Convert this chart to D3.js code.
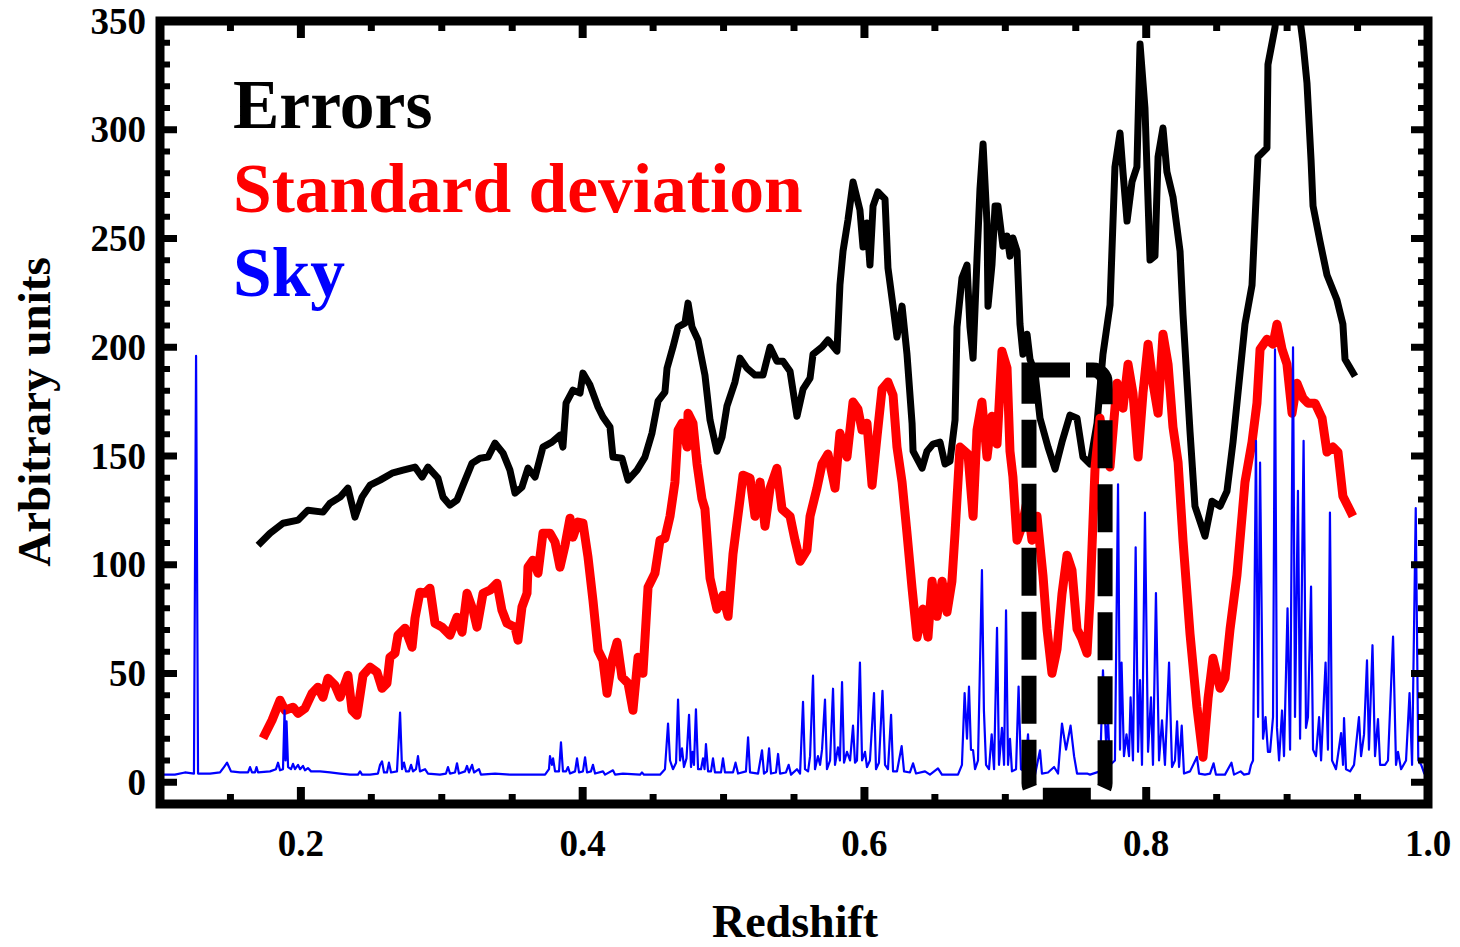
<!DOCTYPE html>
<html>
<head>
<meta charset="utf-8">
<script src="https://cdn.jsdelivr.net/npm/d3@7/dist/d3.min.js"></script>
<style>
  html, body { margin: 0; padding: 0; background: #fff; }
  svg { display: block; }
  text { font-family: "Liberation Serif", "Times New Roman", serif; font-weight: bold; }
</style>
</head>
<body>
<svg id="chart" width="1460" height="947"></svg>
<script>
// ---------- DATA ----------
const xMajorTicks = [0.2, 0.4, 0.6, 0.8, 1.0];
const xTickLabels = ["0.2", "0.4", "0.6", "0.8", "1.0"];
const yMajorTicks = [0, 50, 100, 150, 200, 250, 300, 350];
const yTickLabels = ["0", "50", "100", "150", "200", "250", "300", "350"];
const seriesNames = ["Errors", "Standard deviation", "Sky"];
const seriesColors = ["#000000", "#ff0000", "#0000ff"];
const boxRedshift = [0.7168, 0.7708];
const boxValue = [-6, 189.5];

// Errors (black): [redshift, value]
const errors = [
[0.1696,109.0],[0.1781,114.5],[0.1873,119.1],[0.1980,120.5],[0.2050,125.1],[0.2157,124.2],[0.2207,128.3],[0.2278,131.1],[0.2334,135.2],[0.2384,121.9],[0.2434,131.1],[0.2491,136.6],[0.2562,138.9],[0.2647,142.1],[0.2725,143.5],[0.2810,144.9],[0.2860,140.3],[0.2902,144.9],[0.2973,139.8],[0.3009,131.1],[0.3058,127.4],[0.3108,129.7],[0.3151,136.6],[0.3215,146.7],[0.3271,149.0],[0.3328,149.5],[0.3378,155.9],[0.3435,151.3],[0.3484,143.5],[0.3520,132.9],[0.3569,135.7],[0.3612,144.4],[0.3662,140.3],[0.3718,154.1],[0.3782,156.4],[0.3839,159.6],[0.3860,154.1],[0.3882,174.3],[0.3931,180.3],[0.3981,178.9],[0.4002,188.1],[0.4052,182.6],[0.4109,172.5],[0.4144,167.9],[0.4194,163.3],[0.4215,149.5],[0.4279,149.0],[0.4322,138.9],[0.4386,143.5],[0.4442,149.5],[0.4492,160.5],[0.4535,175.2],[0.4584,179.4],[0.4599,190.4],[0.4641,200.1],[0.4677,209.3],[0.4726,211.1],[0.4748,220.3],[0.4776,209.3],[0.4819,203.3],[0.4868,187.2],[0.4904,166.5],[0.4953,152.2],[0.4989,158.7],[0.5024,172.9],[0.5081,184.0],[0.5117,195.0],[0.5166,190.4],[0.5223,187.2],[0.5280,187.2],[0.5330,200.1],[0.5379,193.6],[0.5422,193.6],[0.5472,189.0],[0.5521,168.3],[0.5564,180.7],[0.5614,185.8],[0.5635,196.8],[0.5699,200.1],[0.5741,203.3],[0.5805,198.2],[0.5826,228.6],[0.5848,244.2],[0.5883,258.5],[0.5919,276.0],[0.5968,263.1],[0.5990,246.1],[0.6018,257.1],[0.6039,237.8],[0.6061,264.9],[0.6096,271.4],[0.6146,268.1],[0.6167,236.4],[0.6203,218.9],[0.6231,204.7],[0.6267,218.9],[0.6302,196.8],[0.6338,165.1],[0.6345,152.2],[0.6409,144.4],[0.6444,152.2],[0.6487,155.5],[0.6536,156.4],[0.6572,146.3],[0.6607,147.6],[0.6643,166.5],[0.6657,209.3],[0.6692,231.8],[0.6728,237.8],[0.6749,209.3],[0.6771,195.0],[0.6799,241.0],[0.6820,272.7],[0.6842,293.4],[0.6870,257.1],[0.6877,218.9],[0.6905,237.8],[0.6927,264.9],[0.6948,264.9],[0.6983,246.5],[0.7012,251.1],[0.7033,241.9],[0.7054,250.2],[0.7083,244.2],[0.7104,210.6],[0.7125,196.8],[0.7154,206.0],[0.7175,194.5],[0.7211,188.1],[0.7246,167.4],[0.7303,154.1],[0.7353,144.0],[0.7402,156.4],[0.7459,168.8],[0.7509,167.4],[0.7551,149.5],[0.7601,146.3],[0.7651,165.1],[0.7693,196.8],[0.7743,219.4],[0.7778,282.9],[0.7814,298.5],[0.7835,280.6],[0.7864,258.0],[0.7899,276.0],[0.7934,282.9],[0.7956,339.4],[0.7991,310.0],[0.8027,240.1],[0.8062,241.9],[0.8084,287.5],[0.8119,300.8],[0.8147,280.6],[0.8190,269.1],[0.8240,244.2],[0.8261,215.2],[0.8311,161.0],[0.8346,126.9],[0.8417,113.1],[0.8467,129.2],[0.8524,126.9],[0.8573,133.8],[0.8616,156.4],[0.8701,210.6],[0.8751,228.6],[0.8793,287.5],[0.8857,291.6],[0.8864,330.0],[0.8914,347.0],[0.8928,358.0],[0.9077,358.0],[0.9113,340.0],[0.9141,321.5],[0.9170,286.0],[0.9184,265.0],[0.9233,248.8],[0.9283,233.2],[0.9354,221.7],[0.9396,210.6],[0.9411,194.5],[0.9482,186.7]
];

// Standard deviation (red): [redshift, value]
const stdDev = [
[0.1731,20.2],[0.1795,28.5],[0.1852,37.7],[0.1887,33.1],[0.1944,34.5],[0.1980,31.7],[0.2029,34.0],[0.2079,40.9],[0.2121,43.7],[0.2157,39.1],[0.2192,47.8],[0.2242,44.6],[0.2278,39.1],[0.2334,49.2],[0.2363,33.1],[0.2398,30.8],[0.2441,49.2],[0.2491,52.9],[0.2540,50.6],[0.2576,43.2],[0.2611,45.5],[0.2632,57.5],[0.2668,59.3],[0.2689,67.6],[0.2739,70.8],[0.2789,62.1],[0.2810,75.4],[0.2845,87.4],[0.2881,86.9],[0.2916,89.2],[0.2952,73.1],[0.3002,71.3],[0.3058,67.6],[0.3108,75.9],[0.3144,69.0],[0.3179,86.9],[0.3222,79.1],[0.3250,71.3],[0.3293,86.9],[0.3342,88.3],[0.3392,91.5],[0.3427,79.1],[0.3463,73.1],[0.3520,71.3],[0.3541,65.3],[0.3569,80.5],[0.3605,86.9],[0.3612,98.9],[0.3647,102.1],[0.3683,96.1],[0.3718,114.5],[0.3768,114.5],[0.3804,110.4],[0.3839,98.9],[0.3875,109.0],[0.3910,121.4],[0.3931,112.7],[0.3967,119.6],[0.4002,119.1],[0.4038,103.5],[0.4073,83.7],[0.4109,60.7],[0.4144,56.1],[0.4173,40.9],[0.4208,56.1],[0.4244,64.4],[0.4279,48.3],[0.4322,45.5],[0.4357,33.1],[0.4393,57.5],[0.4428,50.1],[0.4464,89.7],[0.4513,96.1],[0.4549,111.3],[0.4584,112.2],[0.4620,122.3],[0.4655,138.0],[0.4677,161.9],[0.4705,165.1],[0.4741,154.1],[0.4748,169.7],[0.4783,165.1],[0.4812,146.3],[0.4847,130.2],[0.4868,125.6],[0.4904,93.8],[0.4953,79.6],[0.4996,86.0],[0.5032,76.3],[0.5067,104.9],[0.5117,130.2],[0.5138,141.2],[0.5188,139.8],[0.5223,122.3],[0.5259,138.0],[0.5294,117.7],[0.5330,135.2],[0.5379,144.4],[0.5415,125.6],[0.5472,122.3],[0.5507,111.3],[0.5543,101.6],[0.5592,106.7],[0.5614,122.3],[0.5663,135.2],[0.5699,146.3],[0.5741,150.9],[0.5791,135.2],[0.5826,160.5],[0.5876,149.5],[0.5919,174.8],[0.5954,171.6],[0.5983,161.9],[0.6018,165.1],[0.6054,136.6],[0.6089,158.7],[0.6125,180.7],[0.6167,184.0],[0.6203,178.0],[0.6231,154.1],[0.6267,138.0],[0.6302,114.5],[0.6338,89.2],[0.6373,66.7],[0.6416,79.6],[0.6451,66.7],[0.6480,92.4],[0.6515,76.3],[0.6551,92.4],[0.6586,78.2],[0.6621,92.4],[0.6643,114.5],[0.6678,154.1],[0.6735,150.9],[0.6771,122.3],[0.6799,161.9],[0.6834,174.8],[0.6870,149.5],[0.6905,168.3],[0.6941,155.5],[0.6976,198.2],[0.7012,190.4],[0.7033,152.2],[0.7054,140.3],[0.7083,111.3],[0.7118,117.7],[0.7154,129.2],[0.7189,111.3],[0.7225,122.3],[0.7267,95.2],[0.7296,70.4],[0.7331,50.1],[0.7367,61.2],[0.7402,86.5],[0.7438,104.4],[0.7473,97.5],[0.7509,70.4],[0.7544,65.8],[0.7580,59.3],[0.7601,84.2],[0.7637,144.9],[0.7672,167.4],[0.7708,151.8],[0.7743,144.9],[0.7793,183.5],[0.7835,172.0],[0.7871,192.2],[0.7906,178.9],[0.7942,149.5],[0.7977,178.9],[0.8013,201.4],[0.8048,183.5],[0.8084,169.7],[0.8119,206.0],[0.8155,192.2],[0.8190,163.3],[0.8226,147.2],[0.8261,111.3],[0.8311,68.1],[0.8360,34.5],[0.8403,11.5],[0.8439,38.6],[0.8474,57.0],[0.8524,43.2],[0.8559,47.8],[0.8595,70.4],[0.8644,95.2],[0.8701,138.0],[0.8751,156.4],[0.8786,174.3],[0.8808,199.1],[0.8857,203.7],[0.8900,201.4],[0.8928,210.6],[0.8964,199.1],[0.8999,192.2],[0.9035,169.7],[0.9070,183.5],[0.9113,176.6],[0.9148,174.3],[0.9198,174.3],[0.9248,167.4],[0.9283,151.8],[0.9326,154.1],[0.9361,151.8],[0.9396,131.5],[0.9432,126.9],[0.9467,122.3]
];

// Sky (blue): [redshift, value]
const sky = [
[0.1000,3.5],[0.1106,3.5],[0.1177,4.5],[0.1241,4],[0.1256,196],[0.1270,4],[0.1355,4],[0.1426,4.5],[0.1454,7],[0.1476,9],[0.1504,5],[0.1568,4.5],[0.1625,4.5],[0.1639,7],[0.1653,4.5],[0.1674,4.5],[0.1685,7],[0.1696,4.5],[0.1781,5],[0.1823,6],[0.1838,9],[0.1852,5.5],[0.1873,6],[0.1884,33],[0.1891,10],[0.1898,28],[0.1909,7],[0.1930,6],[0.1944,8.5],[0.1958,6],[0.1980,8],[0.1994,6],[0.2015,7.5],[0.2029,5.5],[0.2050,6.5],[0.2072,5],[0.2136,5],[0.2207,4.5],[0.2278,4],[0.2349,3.5],[0.2405,3.5],[0.2420,5],[0.2434,3.5],[0.2491,3.5],[0.2547,4],[0.2562,8],[0.2576,9.6],[0.2590,4.5],[0.2611,4.5],[0.2625,9],[0.2640,4.5],[0.2682,5],[0.2704,32],[0.2718,6],[0.2732,9],[0.2746,5],[0.2767,5],[0.2782,8],[0.2796,5],[0.2817,6],[0.2831,12],[0.2845,5],[0.2881,6],[0.2902,4],[0.2987,3.5],[0.3030,4],[0.3044,7],[0.3058,4],[0.3094,4.5],[0.3108,8.7],[0.3122,4],[0.3165,5],[0.3179,7.5],[0.3193,4.5],[0.3215,8],[0.3229,4.5],[0.3264,6],[0.3278,3.5],[0.3378,4],[0.3484,3.5],[0.3626,3.5],[0.3733,3.5],[0.3761,6],[0.3768,12],[0.3782,8],[0.3790,11],[0.3804,5],[0.3832,5],[0.3846,18.4],[0.3860,5],[0.3882,5],[0.3896,7],[0.3910,4],[0.3946,5],[0.3960,11],[0.3974,4.5],[0.4002,5],[0.4017,11.5],[0.4031,4.5],[0.4059,5],[0.4073,8],[0.4088,4],[0.4144,5],[0.4159,3.5],[0.4215,5.5],[0.4230,3.5],[0.4286,4],[0.4407,3.5],[0.4421,4.5],[0.4435,3.5],[0.4549,3.5],[0.4584,6],[0.4606,27],[0.4620,10],[0.4641,6],[0.4663,9],[0.4677,38],[0.4691,10],[0.4705,15.6],[0.4719,7],[0.4737,11],[0.4755,31],[0.4769,7],[0.4780,14],[0.4790,8],[0.4804,33.5],[0.4819,6],[0.4840,6],[0.4854,11],[0.4865,6],[0.4875,17.5],[0.4890,5],[0.4911,5],[0.4925,11],[0.4939,4.5],[0.4982,4.5],[0.4996,11],[0.5010,4.5],[0.5067,4.5],[0.5085,9],[0.5103,4],[0.5159,5],[0.5174,20.7],[0.5188,4.5],[0.5245,4],[0.5273,14.7],[0.5287,4],[0.5308,5],[0.5323,15.6],[0.5337,4],[0.5372,4.5],[0.5387,13],[0.5401,4],[0.5443,4.5],[0.5462,8],[0.5479,3.5],[0.5521,6],[0.5543,4],[0.5564,37],[0.5578,6],[0.5600,5],[0.5614,12],[0.5635,49],[0.5649,6],[0.5670,12],[0.5685,8],[0.5699,15],[0.5720,38],[0.5734,6],[0.5756,10],[0.5777,43],[0.5791,8],[0.5812,16],[0.5826,10],[0.5841,46],[0.5855,9],[0.5876,14],[0.5898,10],[0.5919,26],[0.5933,9],[0.5947,10],[0.5968,55],[0.5983,10],[0.6004,14],[0.6018,7],[0.6039,10],[0.6068,41],[0.6082,6],[0.6103,9],[0.6128,42],[0.6146,8],[0.6167,6],[0.6189,31],[0.6203,5],[0.6231,5],[0.6264,16.6],[0.6281,5],[0.6323,4.5],[0.6345,8.7],[0.6366,4],[0.6430,5],[0.6465,3.5],[0.6522,6.4],[0.6550,3.5],[0.6607,3.5],[0.6664,3.5],[0.6692,8],[0.6711,41],[0.6728,20],[0.6742,44],[0.6756,15],[0.6771,14.7],[0.6785,6],[0.6806,10],[0.6834,97.5],[0.6848,33],[0.6863,8],[0.6884,6],[0.6903,22],[0.6920,6],[0.6941,71],[0.6955,8],[0.6976,25],[0.6991,8],[0.7005,79],[0.7019,8],[0.7033,20],[0.7047,5],[0.7076,6],[0.7094,44],[0.7111,6],[0.7140,5],[0.7161,22],[0.7175,4],[0.7211,3.5],[0.7246,14.7],[0.7260,4],[0.7303,4.5],[0.7346,7],[0.7374,4],[0.7402,27],[0.7431,15],[0.7463,26],[0.7488,12],[0.7509,4],[0.7580,4],[0.7601,3.5],[0.7672,5],[0.7693,51.5],[0.7715,18],[0.7729,28],[0.7743,8],[0.7778,10],[0.7800,137],[0.7814,15],[0.7825,55],[0.7842,12],[0.7860,22],[0.7878,12],[0.7889,39],[0.7906,10],[0.7925,108],[0.7942,14],[0.7956,47],[0.7970,8],[0.7991,124],[0.8013,14],[0.8034,39],[0.8048,8],[0.8069,87],[0.8091,10],[0.8112,28.5],[0.8133,8],[0.8162,55],[0.8183,7],[0.8204,10],[0.8219,28],[0.8233,7],[0.8252,26],[0.8268,4],[0.8311,5],[0.8360,11.6],[0.8375,4],[0.8417,3.5],[0.8453,4],[0.8478,8.7],[0.8495,3.5],[0.8559,3.5],[0.8605,9],[0.8623,3.5],[0.8670,5],[0.8694,3.5],[0.8730,4],[0.8744,8],[0.8758,10],[0.8779,157],[0.8794,30],[0.8808,147],[0.8829,20],[0.8847,30],[0.8864,14],[0.8879,14],[0.8900,30],[0.8914,199],[0.8928,25],[0.8943,10],[0.8964,33],[0.8978,12],[0.9003,80],[0.9021,15],[0.9042,200],[0.9056,30],[0.9077,134],[0.9092,20],[0.9117,157],[0.9134,25],[0.9148,30],[0.9170,90],[0.9184,15],[0.9205,12],[0.9227,30],[0.9241,10],[0.9273,55],[0.9290,15],[0.9304,124],[0.9319,10],[0.9347,6],[0.9383,22.6],[0.9397,8],[0.9404,29.5],[0.9418,6],[0.9447,5],[0.9475,8],[0.9510,30],[0.9525,12],[0.9546,22],[0.9567,56],[0.9581,15],[0.9606,63],[0.9624,12],[0.9645,29],[0.9660,8],[0.9695,8],[0.9716,10],[0.9752,67],[0.9773,8],[0.9787,14],[0.9809,6],[0.9844,10],[0.9869,41],[0.9887,8],[0.9913,126],[0.9931,10],[0.9952,8],[0.9974,4],[1.0000,4]
];

// ---------- DRAW ----------
const svg = d3.select("#chart");
svg.append("rect").attr("width", 1460).attr("height", 947).attr("fill", "#fff");

const x = d3.scaleLinear().domain([0.1, 1.0]).range([160, 1428]);
const y = d3.scaleLinear().domain([-10, 350]).range([804, 21]);

svg.append("clipPath").attr("id", "plotclip")
  .append("rect")
  .attr("x", x(0.1)).attr("y", y(350))
  .attr("width", x(1.0) - x(0.1)).attr("height", y(-10) - y(350));

const line = d3.line().x(d => x(d[0])).y(d => y(d[1])).curve(d3.curveLinear);
const plot = svg.append("g").attr("clip-path", "url(#plotclip)");

plot.append("path").datum(errors).attr("d", line)
  .attr("fill", "none").attr("stroke", seriesColors[0]).attr("stroke-width", 7)
  .attr("stroke-linejoin", "round");
plot.append("path").datum(stdDev).attr("d", line)
  .attr("fill", "none").attr("stroke", seriesColors[1]).attr("stroke-width", 9)
  .attr("stroke-linejoin", "round");
plot.append("path").datum(sky).attr("d", line)
  .attr("fill", "none").attr("stroke", seriesColors[2]).attr("stroke-width", 2.2)
  .attr("stroke-linejoin", "round");

// frame
const x0 = x(0.1), x1 = x(1.0), yTop = y(350), yBot = y(-10);
svg.append("rect").attr("x", x0).attr("y", yTop)
  .attr("width", x1 - x0).attr("height", yBot - yTop)
  .attr("fill", "none").attr("stroke", "#000").attr("stroke-width", 9);

// ticks
const ticks = svg.append("g").attr("stroke", "#000");
const majLen = 17, minLen = 10;
const xMinor = d3.range(0.15, 1.0, 0.05).filter(v => !xMajorTicks.some(m => Math.abs(m - v) < 1e-6));
const yMinor = d3.range(0, 350, 10).filter(v => v % 50 !== 0);

function xTick(v, len, w) {
  ticks.append("line").attr("x1", x(v)).attr("x2", x(v)).attr("y1", yBot).attr("y2", yBot - len).attr("stroke-width", w);
  ticks.append("line").attr("x1", x(v)).attr("x2", x(v)).attr("y1", yTop).attr("y2", yTop + len).attr("stroke-width", w);
}
function yTick(v, len, w) {
  ticks.append("line").attr("y1", y(v)).attr("y2", y(v)).attr("x1", x0).attr("x2", x0 + len).attr("stroke-width", w);
  ticks.append("line").attr("y1", y(v)).attr("y2", y(v)).attr("x1", x1).attr("x2", x1 - len).attr("stroke-width", w);
}
xMinor.forEach(v => xTick(v, minLen, 7));
xMajorTicks.forEach(v => xTick(v, majLen, 8));
yMinor.forEach(v => yTick(v, minLen, 6));
yMajorTicks.forEach(v => yTick(v, majLen, 7));

// tick labels
svg.append("g").selectAll("text").data(xMajorTicks).join("text")
  .attr("x", d => x(d)).attr("y", 856)
  .attr("text-anchor", "middle").attr("font-size", 37)
  .text((d, i) => xTickLabels[i]);
svg.append("g").selectAll("text").data(yMajorTicks).join("text")
  .attr("x", 146).attr("y", d => y(d) + 12.5)
  .attr("text-anchor", "end").attr("font-size", 37)
  .text((d, i) => yTickLabels[i]);

// axis titles
svg.append("text").attr("x", 795).attr("y", 937).attr("text-anchor", "middle")
  .attr("font-size", 46).text("Redshift");
svg.append("text").attr("transform", "translate(50,412) rotate(-90)")
  .attr("text-anchor", "middle").attr("font-size", 47).text("Arbitrary units");

// legend labels
const legendBaselines = [128, 212, 296];
svg.append("g").selectAll("text").data(seriesNames).join("text")
  .attr("x", 233).attr("y", (d, i) => legendBaselines[i])
  .attr("font-size", 69.5).attr("fill", (d, i) => seriesColors[i])
  .text(d => d);

// dashed highlight box (rounded corners on the right side)
const bx0 = x(boxRedshift[0]), bx1 = x(boxRedshift[1]);
const by0 = y(boxValue[1]), by1 = y(boxValue[0]);
const r = 12;
const boxPath = d3.path();
boxPath.moveTo(bx0, by0);
boxPath.lineTo(bx1 - r, by0);
boxPath.arcTo(bx1, by0, bx1, by0 + r, r);
boxPath.lineTo(bx1, by1 - r);
boxPath.arcTo(bx1, by1, bx1 - r, by1, r);
boxPath.lineTo(bx0 + r, by1);
boxPath.arcTo(bx0, by1, bx0, by1 - r, r);
boxPath.closePath();
svg.append("path").attr("d", boxPath.toString())
  .attr("fill", "none").attr("stroke", "#000").attr("stroke-width", 15)
  .attr("stroke-dasharray", "48,16").attr("stroke-dashoffset", 7);
</script>
</body>
</html>
